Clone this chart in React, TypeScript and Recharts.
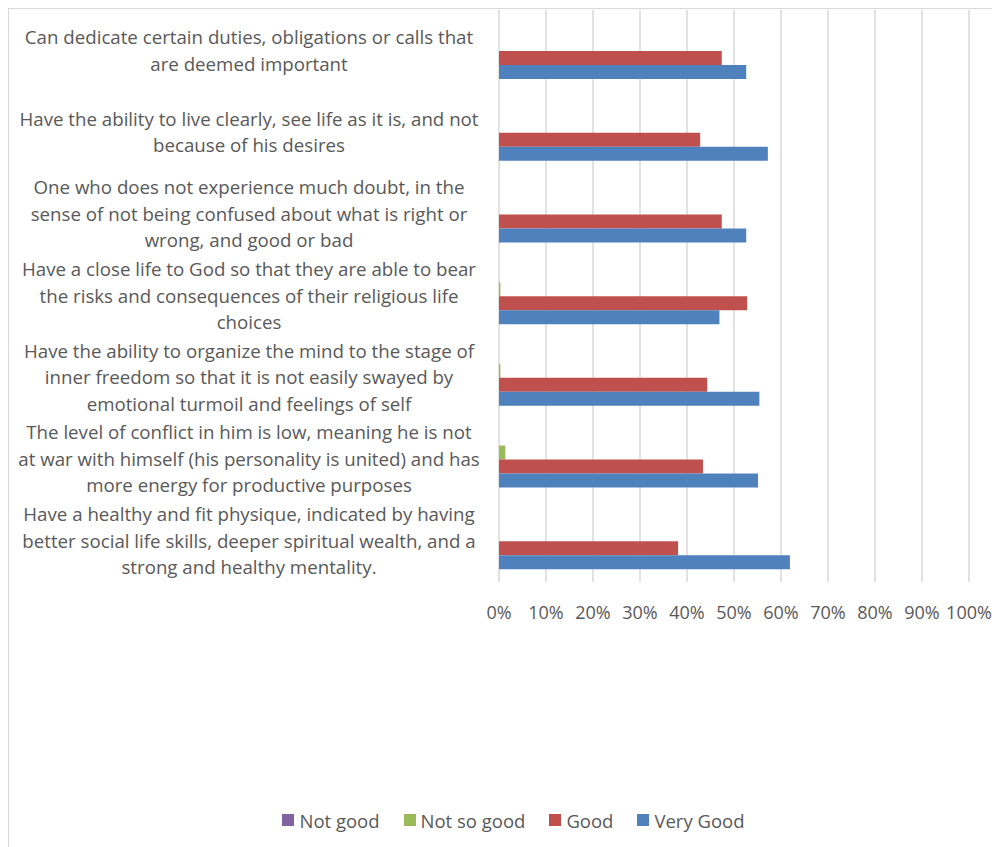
import { BarChart, Bar, XAxis, YAxis, CartesianGrid, Legend } from "recharts";

const FONT = "'Open Sans', Lato, sans-serif";
const TEXT = "#595959";

// category labels, line breaks as wrapped in the original
const categories = [
  "Can dedicate certain duties, obligations or calls that\nare deemed important",
  "Have the ability to live clearly, see life as it is, and not\nbecause of his desires",
  "One who does not experience much doubt, in the\nsense of not being confused about what is right or\nwrong, and good or bad",
  "Have a close life to God so that they are able to bear\nthe risks and consequences of their religious life\nchoices",
  "Have the ability to organize the mind to the stage of\ninner freedom so that it is not easily swayed by\nemotional turmoil and feelings of self",
  "The level of conflict in him is low, meaning he is not\nat war with himself (his personality is united) and has\nmore energy for productive purposes",
  "Have a healthy and fit physique, indicated by having\nbetter social life skills, deeper spiritual wealth, and a\nstrong and healthy mentality.",
];

// percentages
const notGood = [0, 0, 0, 0, 0, 0, 0];
const notSoGood = [0, 0, 0, 0.3, 0.3, 1.35, 0];
const good = [47.4, 42.8, 47.4, 52.8, 44.3, 43.4, 38.1];
const veryGood = [52.6, 57.2, 52.6, 46.9, 55.4, 55.1, 61.9];

const xTicks = [0, 10, 20, 30, 40, 50, 60, 70, 80, 90, 100];

const series = [
  { key: "notGood", name: "Not good", color: "#8064A2" },
  { key: "notSoGood", name: "Not so good", color: "#9BBB59" },
  { key: "good", name: "Good", color: "#C0504D" },
  { key: "veryGood", name: "Very Good", color: "#4F81BD" },
];

const data = categories.map((name, i) => ({
  name,
  notGood: notGood[i],
  notSoGood: notSoGood[i],
  good: good[i],
  veryGood: veryGood[i],
}));

const CategoryTick = (props: any) => {
  const { x, y, payload } = props;
  const lines = String(payload.value).split("\n");
  const lh = 26.5;
  const startY = y - ((lines.length - 1) * lh) / 2;
  return (
    <text textAnchor="middle" fill={TEXT} fontSize={18.7} fontFamily={FONT}>
      {lines.map((l, i) => (
        <tspan key={i} x={x} y={startY + i * lh} dy="0.35em">
          {l}
        </tspan>
      ))}
    </text>
  );
};

const LegendContent = () => (
  <div
    style={{
      display: "flex",
      justifyContent: "center",
      alignItems: "center",
      height: 26,
      paddingLeft: 73,
      fontFamily: FONT,
      fontSize: 18.5,
      color: TEXT,
    }}
  >
    {series.map((s) => (
      <div key={s.key} style={{ display: "flex", alignItems: "center", marginRight: 24 }}>
        <span
          style={{ width: 12, height: 12, background: s.color, display: "inline-block", marginRight: 5 }}
        />
        <span>{s.name}</span>
      </div>
    ))}
  </div>
);

export default function App() {
  return (
    <>
      <style>{"body{overflow:hidden}"}</style>
      <div
        style={{
          width: 992,
          height: 839,
          borderTop: "1px solid #d9d9d9",
          borderLeft: "1px solid #d9d9d9",
          boxSizing: "border-box",
          background: "#fff",
        }}
      >
        <BarChart
          width={991}
          height={838}
          data={data}
          layout="vertical"
          margin={{ top: 1, right: 31, bottom: 14, left: 0 }}
          barSize={14}
          barGap={0}
        >
          <CartesianGrid horizontal={false} stroke="#d9d9d9" strokeWidth={1.5} />
          <XAxis
            type="number"
            domain={[0, 100]}
            ticks={xTicks}
            tickFormatter={(v) => `${v}%`}
            axisLine={false}
            tickLine={false}
            tickSize={0}
            tickMargin={24}
            height={225}
            tick={{ fill: TEXT, fontSize: 18, fontFamily: FONT }}
          />
          <YAxis
            type="category"
            dataKey="name"
            width={490}
            interval={0}
            axisLine={false}
            tickLine={false}
            tickSize={0}
            tickMargin={250}
            tick={<CategoryTick />}
          />
          <Legend verticalAlign="bottom" content={<LegendContent />} />
          {series.map((s) => (
            <Bar key={s.key} dataKey={s.key} name={s.name} fill={s.color} isAnimationActive={false} />
          ))}
        </BarChart>
      </div>
    </>
  );
}
